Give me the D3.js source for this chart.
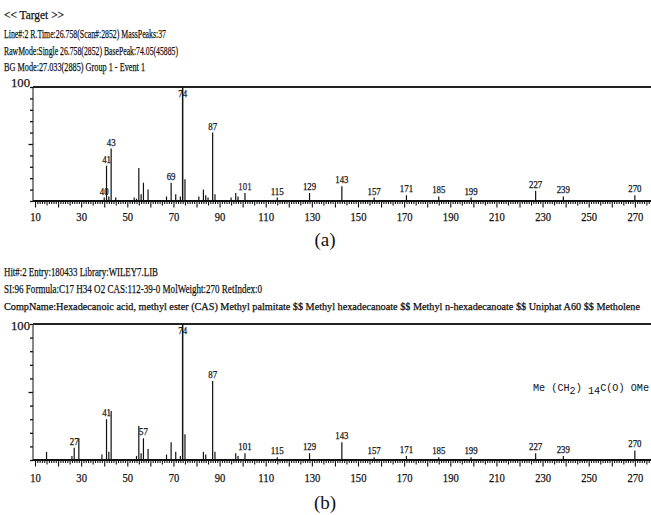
<!DOCTYPE html>
<html>
<head>
<meta charset="utf-8">
<script src="https://cdn.jsdelivr.net/npm/d3@7"></script>
<style>
  body { margin: 0; background: #fff; }
  svg { display: block; }
  text { stroke: #111; stroke-width: 0.25px; }
</style>
</head>
<body>
<svg width="651" height="515"></svg>
<script>
// spectrum (a): measured sample
const topMz  = [40, 41, 42, 43, 45, 53, 54, 55, 56, 57, 59, 67, 69, 71, 73, 74, 75, 81, 83, 84, 85, 87, 88, 95, 97, 98, 101, 115, 129, 143, 157, 171, 185, 199, 227, 239, 270]
const topInt = [3, 31, 4, 46, 3, 3, 2, 29, 6, 16, 10, 4, 16, 6, 4, 100, 19, 4, 10, 5, 3, 60, 6, 3, 7, 4, 7, 3, 7, 13, 3, 5, 4, 3, 9, 4, 5]
const topLabels = [40, 41, 43, 69, 74, 87, 101, 115, 129, 143, 157, 171, 185, 199, 227, 239, 270]

// spectrum (b): library hit
const botMz  = [15, 26, 27, 29, 39, 41, 42, 43, 54, 55, 56, 57, 59, 67, 69, 71, 73, 74, 75, 83, 84, 87, 88, 97, 98, 101, 115, 129, 143, 157, 171, 185, 199, 227, 239, 270]
const botInt = [6, 3, 9, 16, 4, 30, 6, 36, 3, 25, 5, 16, 8, 4, 13, 6, 3, 100, 19, 6, 4, 58, 6, 5, 3, 5, 2, 5, 13, 2, 3, 2, 2, 5, 3, 7]
const botLabels = [27, 41, 57, 74, 87, 101, 115, 129, 143, 157, 171, 185, 199, 227, 239, 270]

const xTickLabels = d3.range(10, 271, 20)
const yTicks = d3.range(0, 101, 10)

const headerA = [
  "<< Target >>",
  "Line#:2   R.Time:26.758(Scan#:2852)   MassPeaks:37",
  "RawMode:Single 26.758(2852) BasePeak:74.05(45885)",
  "BG Mode:27.033(2885)   Group 1 - Event 1"
]
const headerB = [
  "Hit#:2  Entry:180433  Library:WILEY7.LIB",
  "SI:96  Formula:C17 H34 O2  CAS:112-39-0  MolWeight:270  RetIndex:0",
  "CompName:Hexadecanoic acid, methyl ester (CAS) Methyl palmitate $$ Methyl hexadecanoate $$ Methyl n-hexadecanoate $$ Uniphat A60 $$ Metholene"
]

const svg = d3.select("svg")
const serif = "'Liberation Serif','Times New Roman',serif"
const ink = "#111"

// header blocks, text squeezed to the widths seen in the picture
function header(lines, ys, widths, sizes) {
  svg.append("g").selectAll("text")
    .data(lines).join("text")
      .attr("x", 4)
      .attr("y", (d, i) => ys[i])
      .attr("textLength", (d, i) => widths[i])
      .attr("lengthAdjust", "spacingAndGlyphs")
      .style("font-family", serif)
      .style("font-size", (d, i) => sizes[i] + "px")
      .attr("fill", ink)
      .text(d => d)
}
header(headerA, [19, 37.5, 55, 70.5], [60, 162, 174, 141], [13, 13, 13, 13])
header(headerB, [276, 293, 309.5], [154, 258, 636], [13, 13, 10])

const x = d3.scaleLinear().domain([9.13, 277]).range([33, 651])

function drawSpectrum(mz, inten, labels, top, base, labelY, hundredY, tag, tagY) {
  const y = d3.scaleLinear().domain([0, 100]).range([base, top])
  const g = svg.append("g")

  // x axis with unit ticks
  const xa = g.append("g")
    .attr("transform", `translate(0,${base})`)
    .call(d3.axisBottom(x)
      .tickValues(d3.range(10, 278))
      .tickSize(3)
      .tickFormat(d => xTickLabels.includes(d) ? d : ""))
  xa.select(".domain").remove()
  xa.selectAll(".tick line")
    .attr("stroke", ink)
    .attr("stroke-width", 1.1)
    .attr("y2", d => d % 10 === 0 ? 6.5 : d % 5 === 0 ? 4.5 : 3)
  xa.selectAll(".tick text")
    .attr("y", labelY).attr("dy", 0)
    .attr("fill", ink)
    .style("font-family", serif)
    .style("font-size", "13px")
    .attr("textLength", d => xTickLabels.includes(d) ? String(d).length * 5.3 : null)
    .attr("lengthAdjust", "spacingAndGlyphs")

  // y axis
  const ya = g.append("g")
    .attr("transform", "translate(33,0)")
    .call(d3.axisLeft(y).tickValues(yTicks).tickSize(3).tickFormat(""))
  ya.select(".domain").attr("stroke", ink).attr("d", `M0,${top}V${base}`)
  ya.selectAll(".tick line").attr("stroke", ink)
    .attr("x2", d => d === 50 ? -4.5 : -3)
    .attr("stroke-width", 1.3)

  g.append("text")
    .attr("x", 30).attr("y", hundredY)
    .attr("text-anchor", "end")
    .attr("textLength", 19).attr("lengthAdjust", "spacingAndGlyphs")
    .style("font-family", serif).style("font-size", "13px")
    .attr("fill", ink)
    .text("100")

  // frame top and baseline
  g.append("line")
    .attr("x1", 33).attr("x2", 651).attr("y1", top).attr("y2", top)
    .attr("stroke", "#222").attr("stroke-width", 2.2)
  g.append("line")
    .attr("x1", 33).attr("x2", 651).attr("y1", base).attr("y2", base)
    .attr("stroke", ink).attr("stroke-width", 2)

  // peaks
  g.append("g").selectAll("line")
    .data(mz).join("line")
      .attr("x1", d => x(d)).attr("x2", d => x(d))
      .attr("y1", base)
      .attr("y2", (d, i) => y(inten[i]))
      .attr("stroke", ink)
      .attr("stroke-width", (d, i) => inten[i] === 100 ? 1.5 : 1.2)

  // peak labels
  g.append("g").selectAll("text")
    .data(labels).join("text")
      .attr("x", d => x(d))
      .attr("y", d => Math.max(y(inten[mz.indexOf(d)]) - 3, top + 10))
      .attr("text-anchor", "middle")
      .attr("textLength", d => String(d).length * 4.4)
      .attr("lengthAdjust", "spacingAndGlyphs")
      .style("font-family", serif).style("font-size", "11px")
      .attr("fill", d => tag === "(a)" && d === 101 ? "#5b2b4b" : ink)
      .text(d => d)

  svg.append("text")
    .attr("x", 325).attr("y", tagY)
    .attr("text-anchor", "middle")
    .style("font-family", serif).style("font-size", "19px")
    .style("stroke-width", "0")
    .attr("fill", ink)
    .text(tag)

  return y
}

drawSpectrum(topMz, topInt, topLabels, 87, 201, 19.5, 87, "(a)", 246)
drawSpectrum(botMz, botInt, botLabels, 324, 460, 22, 329.5, "(b)", 509)

// structure note
const formula = svg.append("text")
  .attr("x", 533).attr("y", 391)
  .attr("textLength", 116).attr("lengthAdjust", "spacingAndGlyphs")
  .style("font-family", "'Liberation Mono','DejaVu Sans Mono',monospace")
  .style("font-size", "10.5px")
  .style("stroke-width", "0")
  .attr("fill", ink)
formula.append("tspan").text("Me (CH")
formula.append("tspan").attr("dy", 3).text("2")
formula.append("tspan").attr("dy", -3).text(") ")
formula.append("tspan").attr("dy", 3).text("14")
formula.append("tspan").attr("dy", -3).text("C(O) OMe")
</script>
</body>
</html>
